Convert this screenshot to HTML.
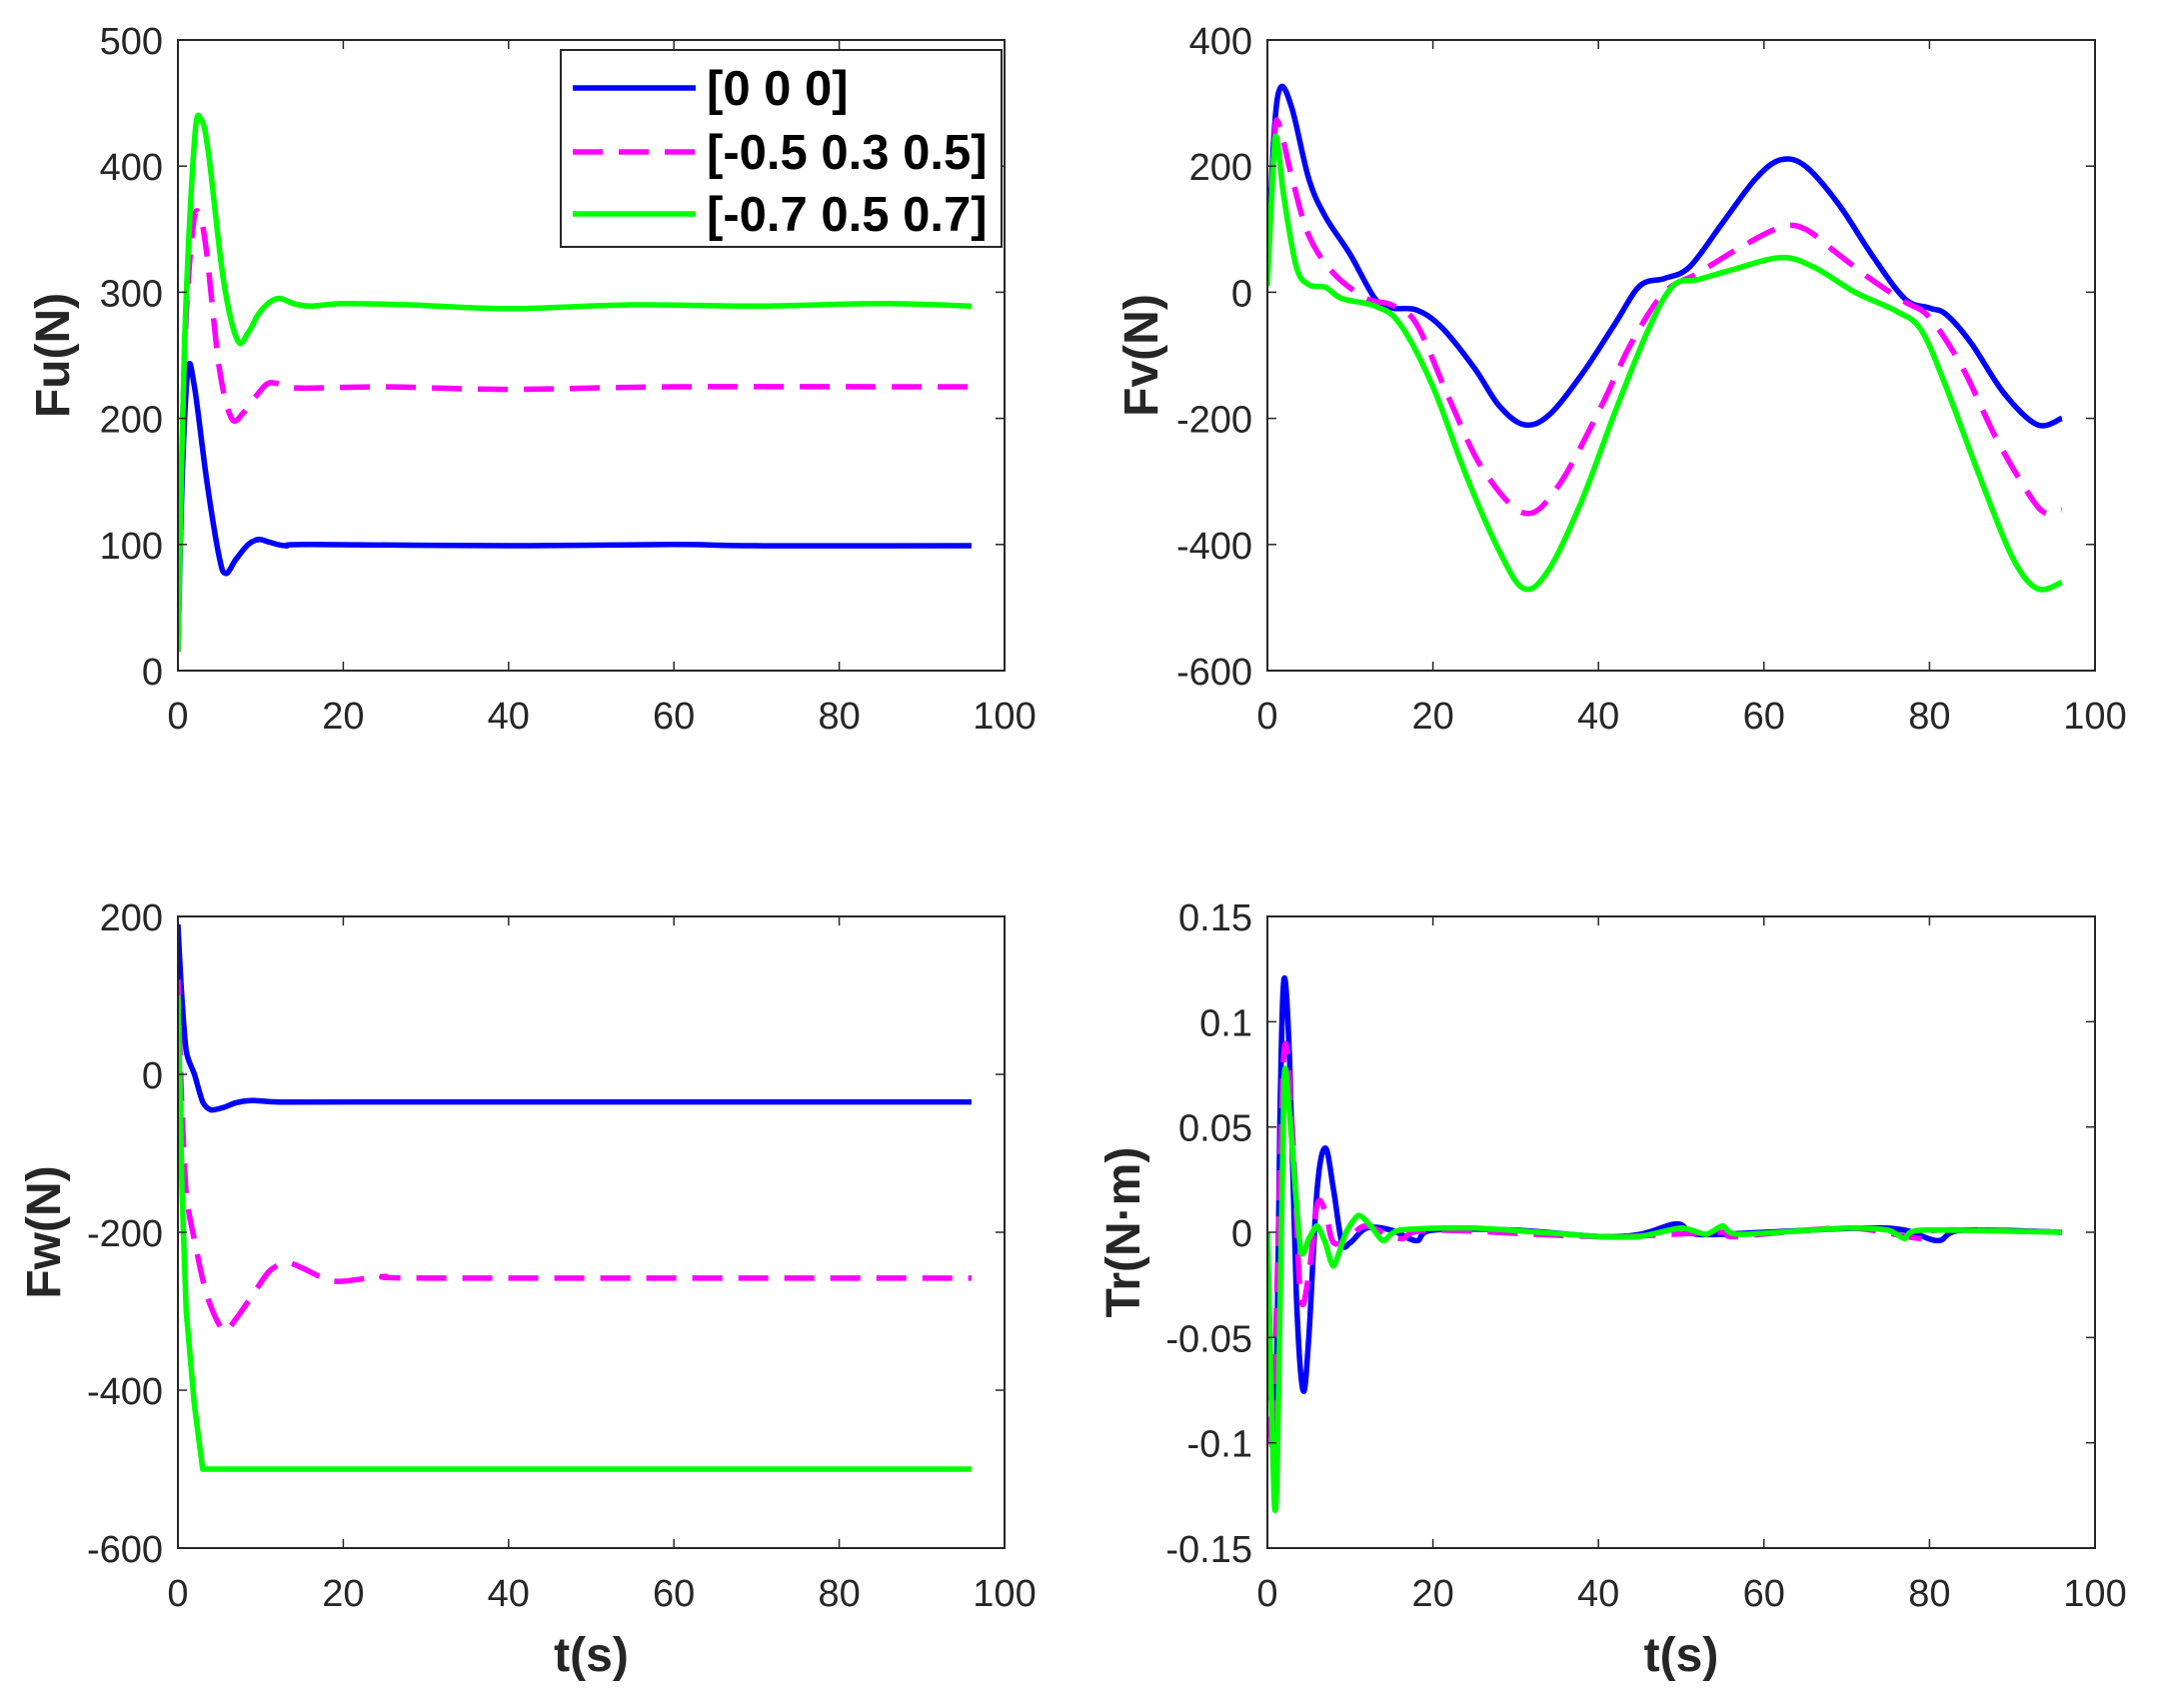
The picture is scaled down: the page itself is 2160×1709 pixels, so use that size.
<!DOCTYPE html>
<html><head><meta charset="utf-8"><style>
body{margin:0;background:#fff}
svg{display:block}
text{font-family:"Liberation Sans",Arial,sans-serif;fill:#262626}
.tk{font-size:38px}
.lb{font-size:48px;font-weight:bold}
.lg{font-size:49px;font-weight:bold;fill:#000}
</style></head><body>
<svg id="s" width="2160" height="1709" viewBox="0 0 2160 1709" xmlns="http://www.w3.org/2000/svg"></svg>
<script>
const S=document.getElementById('s');let out='';
function ax(x0,x1,y0,y1,ymin,ymax,yt,ylab,xlab,data,lx){
 const X=t=>x0+(t/100)*(x1-x0),Y=v=>y1-(v-ymin)/(ymax-ymin)*(y1-y0);
 out+=`<rect x="${x0}" y="${y0}" width="${x1-x0}" height="${y1-y0}" fill="#fff"/>`;
 out+=`<clipPath id="c${x0}${y0}"><rect x="${x0}" y="${y0}" width="${x1-x0}" height="${y1-y0}"/></clipPath><g clip-path="url(#c${x0}${y0})">`;
 for(const s of data){
  const p=s.pts.map(([t,v])=>[X(t),Y(v)]);let d=`M${p[0][0]},${p[0][1]}`;
  for(let i=0;i<p.length-1;i++){const a=p[Math.max(0,i-1)],b=p[i],c=p[i+1],e=p[Math.min(p.length-1,i+2)];
   const k=s.k??6;
   d+=` C${b[0]+(c[0]-a[0])/k},${b[1]+(c[1]-a[1])/k} ${c[0]-(e[0]-b[0])/k},${c[1]-(e[1]-b[1])/k} ${c[0]},${c[1]}`;}
  out+=`<path d="${d}" fill="none" stroke="${s.c}" stroke-width="5.5" stroke-linejoin="round" ${s.dash?'stroke-dasharray="30,16"':''}/>`;
 }
 out+='</g>';
 for(let t=0;t<=100;t+=20){const x=X(t);
  out+=`<line x1="${x}" y1="${y1}" x2="${x}" y2="${y1-9}" stroke="#262626" stroke-width="1.5"/><line x1="${x}" y1="${y0}" x2="${x}" y2="${y0+9}" stroke="#262626" stroke-width="1.5"/>`;
  out+=`<text class="tk" x="${x}" y="${y1+58}" text-anchor="middle">${t}</text>`;}
 for(const v of yt){const y=Y(v);
  out+=`<line x1="${x0}" y1="${y}" x2="${x0+9}" y2="${y}" stroke="#262626" stroke-width="1.5"/><line x1="${x1}" y1="${y}" x2="${x1-9}" y2="${y}" stroke="#262626" stroke-width="1.5"/>`;
  out+=`<text class="tk" x="${x0-15}" y="${y+14}" text-anchor="end">${v}</text>`;}
 out+=`<rect x="${x0}" y="${y0}" width="${x1-x0}" height="${y1-y0}" fill="none" stroke="#262626" stroke-width="2"/>`;
 out+=`<text class="lb" transform="translate(${lx},${(y0+y1)/2}) rotate(-90)" text-anchor="middle">${ylab}</text>`;
 if(xlab) out+=`<text class="lb" x="${(x0+x1)/2}" y="${y1+123}" text-anchor="middle">${xlab}</text>`;
}
const B='#0000ff',M='#ff00ff',G='#00ff00';
ax(178,1005,40,671,0,500,[0,100,200,300,400,500],'Fu(N)','',[
 {c:B,pts:[[0,15],[0.5,150],[1.2,238],[2,225],[3.5,150],[5,90],[5.8,77],[7,88],[8.5,100],[9.8,104],[11,102],[13,99],[16,100],[40,99],[60,100],[70,99],[96,99]]},
 {c:M,dash:1,pts:[[0,15],[0.8,250],[1.8,350],[2.6,362],[3.5,330],[5,240],[6.5,200],[8,205],[9.5,218],[11,228],[13,226],[15,224],[25,225],[40,223],[60,225],[96,225]]},
 {c:G,pts:[[0,15],[0.8,260],[2,420],[2.8,437],[3.7,410],[5.5,310],[7.2,262],[8.5,268],[10,285],[12,295],[14,291],[16,289],[20,291],[28,290],[40,287],[55,290],[70,289],[85,291],[96,289]]}
],69);
ax(1268,2096,40,671,-600,400,[-600,-400,-200,0,200,400],'Fv(N)','',[
 {c:B,pts:[[0,20],[0.8,250],[1.6,325],[3,290],[5,180],[7,120],[10,60],[13,-10],[15,-25],[18,-28],[21,-55],[25,-120],[28,-180],[31,-210],[34,-195],[38,-130],[42,-50],[45,10],[48,22],[51,40],[55,110],[59,180],[62,210],[65,200],[69,140],[73,60],[77,-10],[80,-25],[82,-35],[85,-80],[89,-160],[93,-210],[96,-200]]},
 {c:M,dash:1,pts:[[0,20],[0.8,230],[1.3,270],[3,180],[5,90],[8,30],[12,-10],[15,-20],[18,-50],[22,-170],[26,-280],[31,-350],[35,-310],[40,-190],[44,-80],[48,0],[52,30],[57,70],[62,103],[65,100],[69,60],[73,20],[77,-15],[80,-40],[84,-120],[88,-230],[92,-320],[94,-350],[96,-345]]},
 {c:G,pts:[[0,10],[0.7,200],[1.1,245],[2,150],[3.5,40],[5,12],[7,8],[9,-10],[13,-22],[16,-50],[20,-150],[24,-290],[28,-410],[31,-470],[34,-440],[38,-330],[42,-190],[46,-60],[49,10],[52,20],[56,35],[62,55],[66,40],[71,0],[76,-30],[79,-60],[82,-150],[86,-290],[90,-420],[93,-470],[96,-460]]}
],1158);
ax(178,1005,917,1549,-600,200,[-600,-400,-200,0,200],'Fw(N)','t(s)',[
 {c:B,k:8,pts:[[0,190],[0.4,110],[1,30],[2,0],[3,-35],[4,-45],[5.5,-42],[7,-36],[9,-33],[12,-35],[20,-35],[96,-35]]},
 {c:M,dash:1,k:8,pts:[[0,120],[0.4,-20],[1,-150],[2,-210],[3.5,-280],[5.5,-325],[7,-310],[9,-280],[11,-250],[13,-238],[15,-245],[18,-260],[20,-262],[25,-256],[30,-258],[96,-258]]},
 {c:G,k:1e9,pts:[[0,100],[0.5,-150],[1,-300],[2,-420],[3,-500],[96,-500]]}
],60);
ax(1268,2096,917,1549,-0.15,0.15,[-0.15,-0.1,-0.05,0,0.05,0.1,0.15],'Tr(N·m)','t(s)',[
 {c:B,pts:[[0,0],[0.5,-0.08],[1,-0.1],[1.5,0.05],[2,0.12],[2.7,0.08],[3.5,-0.03],[4.3,-0.075],[5,-0.05],[6,0.02],[7,0.04],[8,0.02],[9,-0.005],[10,-0.005],[12,0.002],[15,0.001],[18,-0.004],[20,0.001],[30,0.001],[40,-0.002],[45,-0.001],[49.5,0.004],[52,-0.001],[60,0],[72,0.002],[77,0.001],[81,-0.004],[84,0.001],[96,0]]},
 {c:M,dash:1,pts:[[0,0],[0.5,-0.1],[1,-0.05],[2,0.085],[3,0.05],[4,-0.03],[5,-0.02],[6,0.013],[7,0.01],[8,-0.005],[10,-0.002],[12,0.003],[16,-0.003],[20,0.001],[40,-0.002],[55,0],[56.5,-0.002],[70,0.002],[79,-0.003],[81,0.001],[96,0]]},
 {c:G,k:9,pts:[[0,0],[0.8,-0.126],[1.2,-0.11],[2,0.07],[2.6,0.06],[4,-0.008],[5,-0.003],[6,0.003],[7,-0.005],[8,-0.016],[9.5,0],[11,0.008],[12.5,0.003],[14,-0.004],[16,0.001],[25,0.002],[40,-0.002],[45,-0.002],[50,0.002],[53,-0.001],[55,0.003],[57,-0.001],[70,0.002],[75,0.001],[77,-0.003],[79,0.001],[96,0]]}
],1140);
out+=`<rect x="561" y="50" width="441" height="197" fill="#fff" stroke="#262626" stroke-width="2"/>`;
[[B,0,'[0 0 0]',88],[M,1,'[-0.5 0.3 0.5]',152],[G,0,'[-0.7 0.5 0.7]',214]].forEach(([c,d,t,y])=>{
 out+=`<line x1="573" y1="${y}" x2="696" y2="${y}" stroke="${c}" stroke-width="5.5" ${d?'stroke-dasharray="30,16"':''}/>`;
 out+=`<text class="lg" x="707" y="${y+17}">${t}</text>`;});
S.innerHTML=out;
</script>
</body></html>
